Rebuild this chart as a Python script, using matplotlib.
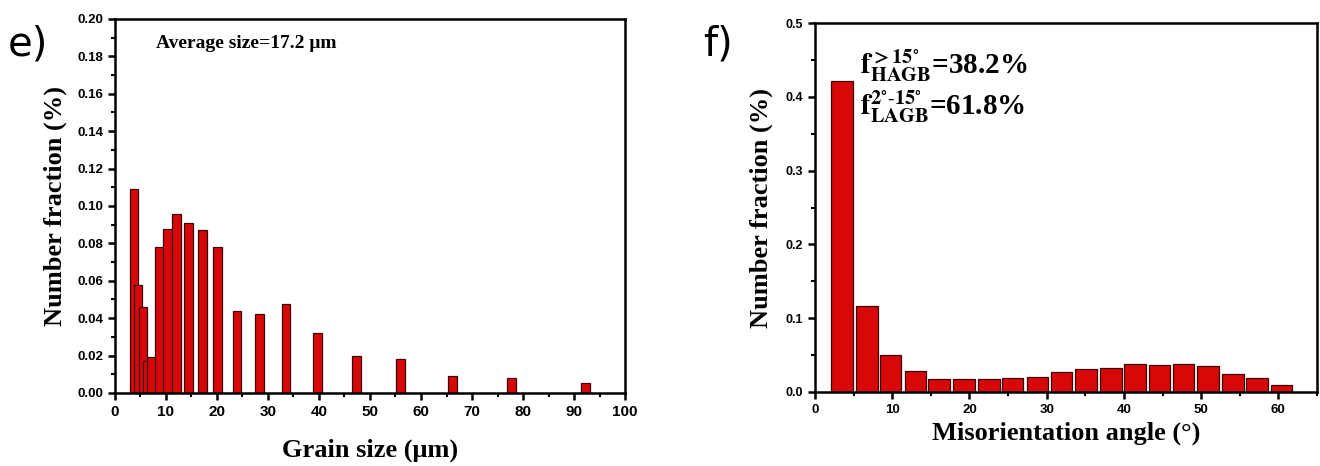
import matplotlib
matplotlib.use("Agg")
import matplotlib.pyplot as plt
from matplotlib.ticker import MultipleLocator, FormatStrFormatter

# grain size distribution (panel e)
grain_size = [3.7, 4.5, 5.5, 6.3, 7.1, 8.7, 10.3, 12.1, 14.4, 17.1, 20.1,
              23.9, 28.4, 33.5, 39.7, 47.3, 56.0, 66.2, 77.8, 92.3]
grain_frac = [0.109, 0.058, 0.046, 0.017, 0.019, 0.078, 0.0875, 0.0955, 0.091,
              0.087, 0.078, 0.044, 0.042, 0.0476, 0.032, 0.020, 0.018, 0.009,
              0.008, 0.0055]

# misorientation angle distribution (panel f)
mis_angle = [3.5, 6.7, 9.8, 13.0, 16.1, 19.3, 22.5, 25.6, 28.8, 31.9,
             35.1, 38.3, 41.4, 44.6, 47.7, 50.9, 54.1, 57.2, 60.4]
mis_frac = [0.422, 0.117, 0.050, 0.028, 0.018, 0.017, 0.018, 0.019, 0.020,
            0.027, 0.031, 0.033, 0.038, 0.037, 0.038, 0.035, 0.025, 0.019, 0.010]

bar_face = '#d90808'
bar_edge = '#3a0505'
serif = 'Liberation Serif'
sans = 'Liberation Sans'

plt.rcParams['mathtext.fontset'] = 'stix'

fig = plt.figure(figsize=(13.2, 4.66), dpi=100)
ax1 = fig.add_axes([0.0871, 0.1567, 0.3864, 0.8026])
ax2 = fig.add_axes([0.6174, 0.1588, 0.3803, 0.7918])


def style_axis(ax, xfs, yfs):
    for s in ax.spines.values():
        s.set_linewidth(1.8)
    ax.tick_params(which='major', direction='out', length=5, width=1.8)
    ax.tick_params(which='minor', direction='out', length=3, width=1.5)
    for lab in ax.get_xticklabels():
        lab.set_fontfamily(sans)
        lab.set_fontweight('bold')
        lab.set_fontsize(xfs)
    for lab in ax.get_yticklabels():
        lab.set_fontfamily(sans)
        lab.set_fontweight('bold')
        lab.set_fontsize(yfs)


# panel e
ax1.bar(grain_size, grain_frac, width=1.7, color=bar_face, edgecolor=bar_edge,
        linewidth=0.9, zorder=2)
ax1.set_xlim(0, 100)
ax1.set_ylim(0, 0.20)
ax1.xaxis.set_major_locator(MultipleLocator(10))
ax1.xaxis.set_minor_locator(MultipleLocator(5))
ax1.yaxis.set_major_locator(MultipleLocator(0.02))
ax1.yaxis.set_minor_locator(MultipleLocator(0.01))
ax1.yaxis.set_major_formatter(FormatStrFormatter('%.2f'))
style_axis(ax1, 11, 9.5)
ax1.set_xlabel('Grain size (μm)', fontfamily=serif, fontweight='bold', fontsize=19, labelpad=14)
ax1.set_ylabel('Number fraction (%)', fontfamily=serif, fontweight='bold', fontsize=19, labelpad=7)
ax1.text(0.08, 0.935, 'Average size=17.2 μm', transform=ax1.transAxes,
         fontfamily=serif, fontweight='bold', fontsize=14, va='center')
fig.text(0.006, 0.905, 'e)', fontfamily='DejaVu Sans', fontsize=29, va='center')

# panel f
ax2.bar(mis_angle, mis_frac, width=2.8, color=bar_face, edgecolor=bar_edge,
        linewidth=0.9, zorder=2)
ax2.set_xlim(0, 65)
ax2.set_ylim(0, 0.5)
ax2.xaxis.set_major_locator(MultipleLocator(10))
ax2.xaxis.set_minor_locator(MultipleLocator(5))
ax2.yaxis.set_major_locator(MultipleLocator(0.1))
ax2.yaxis.set_minor_locator(MultipleLocator(0.05))
ax2.yaxis.set_major_formatter(FormatStrFormatter('%.1f'))
style_axis(ax2, 9.5, 9)
ax2.set_xlabel('Misorientation angle (°)', fontfamily=serif, fontweight='bold', fontsize=19, labelpad=4)
ax2.set_ylabel('Number fraction (%)', fontfamily=serif, fontweight='bold', fontsize=19, labelpad=9)
ax2.text(0.09, 0.885, r'$\mathbf{f}_{\mathbf{HAGB}}^{\mathbf{>15^{\circ}}}$=38.2%',
         transform=ax2.transAxes, fontfamily=serif, fontweight='bold', fontsize=21, va='center')
ax2.text(0.09, 0.774, r'$\mathbf{f}_{\mathbf{LAGB}}^{\mathbf{2^{\circ}\text{-}15^{\circ}}}$=61.8%',
         transform=ax2.transAxes, fontfamily=serif, fontweight='bold', fontsize=21, va='center')
fig.text(0.533, 0.905, 'f)', fontfamily='DejaVu Sans', fontsize=29, va='center')

fig.savefig('out.png', dpi=100, facecolor='white')
